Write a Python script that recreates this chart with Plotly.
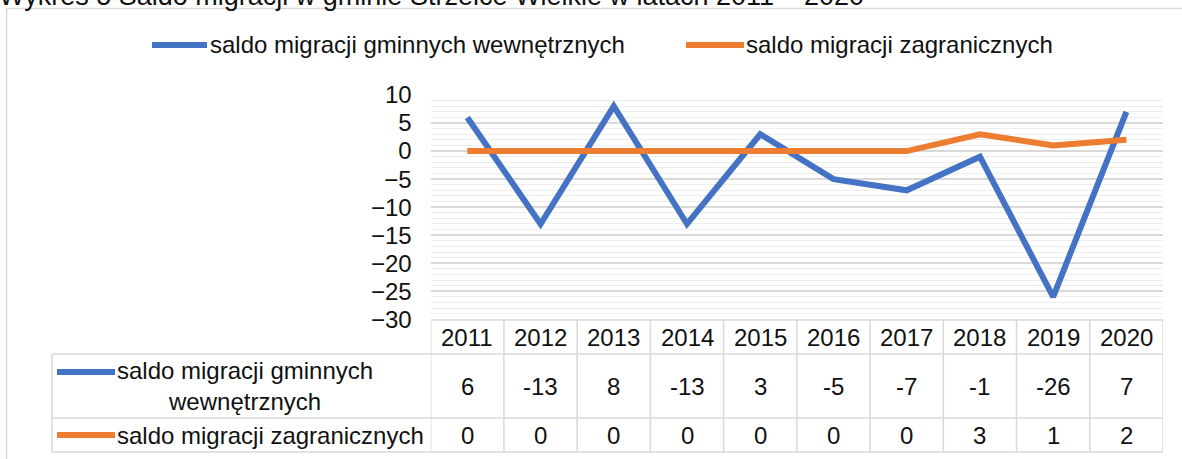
import plotly.graph_objects as go

# ---- data ----
years = ["2011", "2012", "2013", "2014", "2015", "2016", "2017", "2018", "2019", "2020"]
series_names = ["saldo migracji gminnych wewnętrznych", "saldo migracji zagranicznych"]
table_labels = ["saldo migracji gminnych<br>wewnętrznych", "saldo migracji zagranicznych"]
internal = [6, -13, 8, -13, 3, -5, -7, -1, -26, 7]
foreign = [0, 0, 0, 0, 0, 0, 0, 3, 1, 2]
y_ticks = [10, 5, 0, -5, -10, -15, -20, -25, -30]
title_text = "Wykres 5 Saldo migracji w gminie Strzelce Wielkie w latach 2011 – 2020"
colors = ["#4472C4", "#ED7D31"]

W, H = 1182, 459
FONT = "Liberation Sans, Arial, sans-serif"
FS = 24
TXT = "#111"


def px(x):
    return x / W


def py(y):
    return 1 - y / H


X0, X1 = 430.7, 1163.0
Y_TOP, Y_BOT = 95.0, 319.3
GRID = "#d9d9d9"

fig = go.Figure()
for vals, name, col in zip([internal, foreign], series_names, colors):
    fig.add_trace(go.Scatter(x=years, y=vals, name=name, mode="lines",
                             line=dict(color=col, width=6), showlegend=False,
                             hoverinfo="skip"))

shapes = []
annotations = []

# outer frame
shapes.append(dict(type="rect", xref="paper", yref="paper", x0=px(6.5), x1=px(1200),
                   y0=py(8.5), y1=py(480), line=dict(color=GRID, width=1.5),
                   fillcolor="rgba(0,0,0,0)", layer="below"))

# title (cut off at top of the picture)
annotations.append(dict(text=title_text, xref="paper", yref="paper", x=px(-3), y=py(-4),
                        xanchor="left", yanchor="middle", showarrow=False,
                        font=dict(family=FONT, size=27, color=TXT)))

# top legend
leg_pos = [(152, 207, 208), (686, 744, 744)]
for (a, b, t), name, col in zip(leg_pos, series_names, colors):
    shapes.append(dict(type="line", xref="paper", yref="paper", x0=px(a), x1=px(b),
                       y0=py(45), y1=py(45), line=dict(color=col, width=6)))
    annotations.append(dict(text=name, xref="paper", yref="paper", x=px(t), y=py(45),
                            xanchor="left", yanchor="middle", showarrow=False,
                            font=dict(family=FONT, size=FS, color=TXT)))

# data table
T_TOP, R1, R2, T_BOT = 320.0, 354.0, 418.0, 452.0
L_LEFT = 52.0
bw = 1.5
shapes.append(dict(type="line", xref="paper", yref="paper", x0=px(X0), x1=px(X1),
                   y0=py(T_TOP), y1=py(T_TOP), line=dict(color=GRID, width=bw)))
for yy in (R1, R2, T_BOT):
    shapes.append(dict(type="line", xref="paper", yref="paper", x0=px(L_LEFT), x1=px(X1),
                       y0=py(yy), y1=py(yy), line=dict(color=GRID, width=bw)))
shapes.append(dict(type="line", xref="paper", yref="paper", x0=px(L_LEFT), x1=px(L_LEFT),
                   y0=py(R1), y1=py(T_BOT), line=dict(color=GRID, width=bw)))
for i in range(len(years) + 1):
    shapes.append(dict(type="line", xref="x", yref="paper", x0=i - 0.5, x1=i - 0.5,
                       y0=py(T_TOP), y1=py(T_BOT), line=dict(color=GRID, width=bw)))

for i, (yr, v1, v2) in enumerate(zip(years, internal, foreign)):
    for txt, yc in ((yr, (T_TOP + R1) / 2), (str(v1), (R1 + R2) / 2), (str(v2), (R2 + T_BOT) / 2)):
        annotations.append(dict(text=txt, xref="x", yref="paper", x=i, y=py(yc),
                                xanchor="center", yanchor="middle", showarrow=False,
                                font=dict(family=FONT, size=FS, color=TXT)))

# row labels with legend keys
row_y = [372, 435]
for col, ry in zip(colors, row_y):
    shapes.append(dict(type="line", xref="paper", yref="paper", x0=px(57), x1=px(115),
                       y0=py(ry), y1=py(ry), line=dict(color=col, width=6)))
annotations.append(dict(text=table_labels[0], xref="paper", yref="paper", x=px(245),
                        y=py((R1 + R2) / 2), xanchor="center", yanchor="middle", align="center",
                        showarrow=False, font=dict(family=FONT, size=FS, color=TXT)))
annotations.append(dict(text=table_labels[1], xref="paper", yref="paper", x=px(115),
                        y=py((R2 + T_BOT) / 2), xanchor="left", yanchor="middle",
                        showarrow=False, font=dict(family=FONT, size=FS, color=TXT)))

fig.update_layout(
    width=W, height=H,
    margin=dict(l=0, r=0, t=0, b=0, autoexpand=False),
    paper_bgcolor="white", plot_bgcolor="white",
    showlegend=False,
    hovermode=False,
    xaxis=dict(domain=[px(X0), px(X1)], type="category", range=[-0.5, 9.5],
               showticklabels=False, showgrid=False, zeroline=False, showline=False,
               automargin=False, fixedrange=True),
    yaxis=dict(domain=[py(Y_BOT), py(Y_TOP)], range=[-30, 10], tickvals=y_ticks,
               showgrid=True, gridcolor=GRID, gridwidth=1.5, zeroline=False,
               showline=False, ticklabelstandoff=18, automargin=False, fixedrange=True,
               tickfont=dict(family=FONT, size=FS, color=TXT),
               minor=dict(dtick=1, tick0=0, showgrid=True, gridcolor="#eeeeee", gridwidth=1)),
    shapes=shapes,
    annotations=annotations,
)

fig.write_html("out.html", config={"displayModeBar": False},
               post_script="document.body.style.margin='0';document.body.style.padding='0';")
